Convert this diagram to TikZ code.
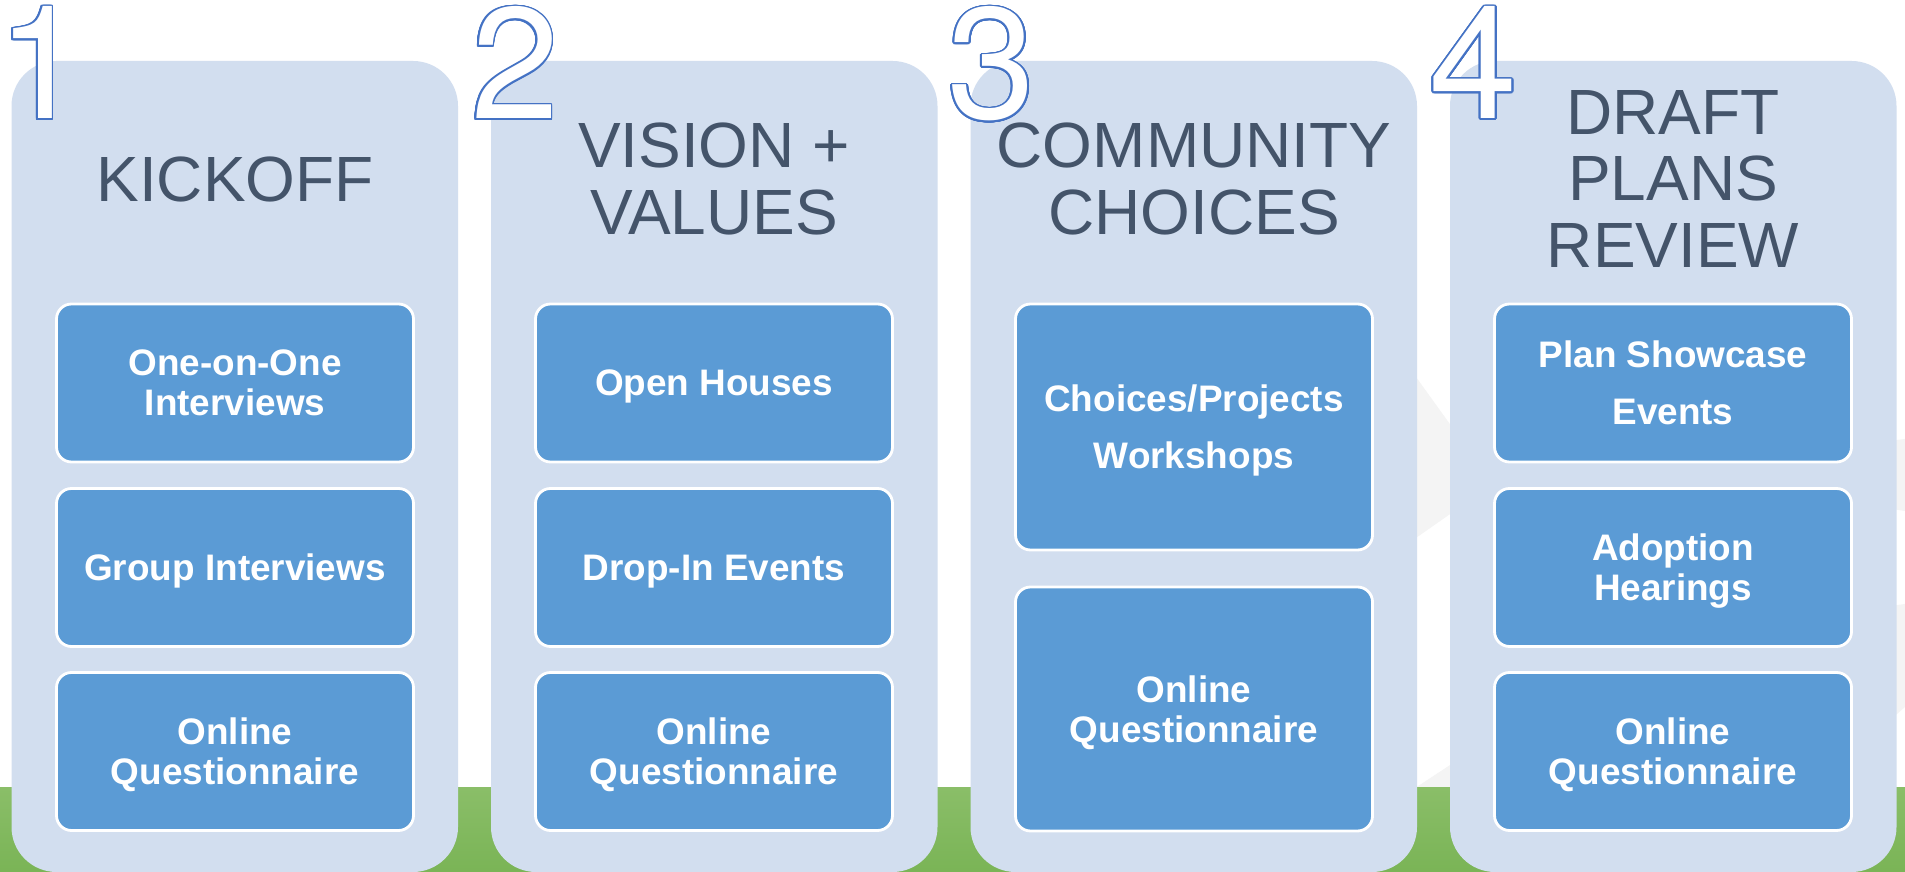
\documentclass[tikz,border=0pt]{standalone}
\usepackage{fontspec}
\setmainfont{Liberation Sans}
\newfontfamily\stepfont{TeX Gyre Heros}
\usepackage{contour}
\usetikzlibrary{positioning}
\definecolor{panelblue}{RGB}{210,222,239}
\definecolor{itemblue}{RGB}{91,155,213}
\definecolor{titleslate}{RGB}{68,84,106}
\definecolor{numberblue}{RGB}{68,114,196}
\definecolor{grassgreen}{RGB}{122,180,86}
\definecolor{grasslight}{RGB}{138,190,104}
\definecolor{chevrongray}{RGB}{244,244,244}
\contourlength{0.5pt}
\contournumber{24}

\begin{document}
\begin{tikzpicture}[
  panel/.style={fill=panelblue, rounded corners=0.45cm},
  phase/.style={text=titleslate, align=center, font=\fontsize{18.2pt}{19.06pt}\selectfont},
  item/.style={draw=white, line width=0.8pt, fill=itemblue, rounded corners=0.15cm,
    text=white, align=center, text depth=0pt, minimum width=3.57cm, minimum height=1.58cm,
    font=\bfseries\fontsize{10.5pt}{11.38pt}\selectfont},
  number/.style={anchor=base, inner sep=0pt, font=\stepfont\fontsize{45pt}{46pt}\selectfont}
]
  % Canvas
  \useasboundingbox (0,0) rectangle (19.05,8.72);
  \fill[white] (0,0) rectangle (19.05,8.72);

  % Faint chevrons
  \fill[chevrongray] (12,7.95) -- (14.93,3.88) -- (12,1.83) -- cycle;
  \fill[chevrongray] (14,0.74) -- (16.4,2.32) -- (19.05,2.68) -- (19.05,1.65) -- (18,0.74) -- cycle;
  \fill[chevrongray] (16.4,4.02) -- (19.05,4.33) -- (19.05,3.61) -- cycle;

  % Grass
  \shade[top color=grasslight, bottom color=grassgreen] (0,0) rectangle (19.05,0.84);

  % Panels
  \foreach \x in {0.115,4.91,9.705,14.5} {
    \fill[panel] (\x,0) rectangle ++(4.465,8.11);
  }

  % Phase titles
  \node[phase] (kickoff) at (2.35,6.93) {KICKOFF};
  \node[phase] (vision) at (7.14,6.93) {VISION +\\VALUES};
  \node[phase] (choices) at (11.94,6.93) {COMMUNITY\\CHOICES};
  \node[phase] (draft) at (16.73,6.93) {DRAFT\\PLANS\\REVIEW};

  % Activities
  \node[item] (oneonone) at (2.35,4.89) {One-on-One\\Interviews};
  \node[item] (group) at (2.35,3.045) {Group Interviews};
  \node[item] (online1) at (2.35,1.205) {Online\\Questionnaire};

  \node[item] (openhouses) at (7.14,4.89) {Open Houses};
  \node[item] (dropin) at (7.14,3.045) {Drop-In Events};
  \node[item] (online2) at (7.14,1.205) {Online\\Questionnaire};

  \node[item, minimum height=2.46cm] (workshops) at (11.94,4.45) {Choices/Projects\\[0.17cm]Workshops};
  \node[item, minimum height=2.44cm] (online3) at (11.94,1.63) {Online\\Questionnaire};

  \node[item] (showcase) at (16.73,4.89) {Plan Showcase\\[0.17cm]Events};
  \node[item] (adoption) at (16.73,3.045) {Adoption\\Hearings};
  \node[item] (online4) at (16.73,1.205) {Online\\Questionnaire};

  % Step numbers
  \foreach \n/\x in {1/0.41, 2/5.15, 3/9.915, 4/14.735} {
    \node[number] (num\n) at (\x,7.53) {\contour{numberblue}{\textcolor{white}{\n}}};
  }
\end{tikzpicture}
\end{document}
